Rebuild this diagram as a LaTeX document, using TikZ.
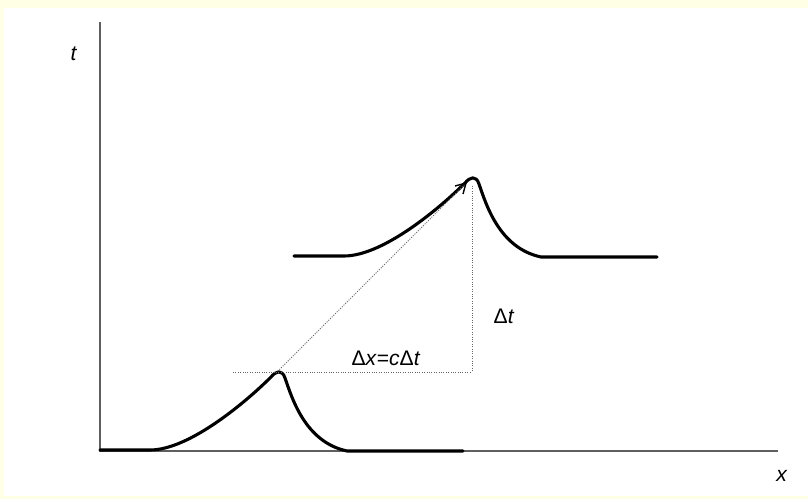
\documentclass[tikz,border=0pt]{standalone}
\usepackage{fontspec}
\setmainfont{Liberation Sans}
\usetikzlibrary{arrows.meta,positioning}
\definecolor{cream}{RGB}{255,255,230}
\definecolor{axisgray}{RGB}{95,95,95}

\begin{document}
\begin{tikzpicture}[x=0.025cm,y=-0.025cm,every node/.style={font=\fontsize{15}{18}\selectfont},
  axis/.style={line width=1.3pt,color=axisgray},
  pulse/.style={line width=2.2pt,line join=round,line cap=round},
  guide/.style={densely dotted,line width=.7pt,color=black!60}]
\fill[cream] (0,0) rectangle (808,499);
\fill[white] (4,8) rectangle (808,496);
\useasboundingbox (0,0) rectangle (808,499);
\coordinate (o) at (100,451);
\coordinate (ttop) at (100,22);
\coordinate (xend) at (778,451);
\draw[axis] (ttop)--(o)--(xend);
\node (tlab) at (74,54) {\textit{t}};
\node (xlab) at (782,476) {\textit{x}};
\foreach \d in {0,194}{
  \draw[pulse,shift={(\d,-\d)}] (100,450)--(150,450) .. controls (190,450) and (248,400) .. (271,377)
    .. controls (276,371) and (282,369) .. (285,378)
    .. controls (292,398) and (305,442) .. (347,451)--(463,451);
}
\coordinate (p1) at (276,373);
\coordinate (tip) at (467,182);
\coordinate (hl) at (233,372);
\coordinate (hr) at (472,372);
\coordinate (vt) at (472,186);
\draw[guide,-{Straight Barb[length=7pt,width=8pt,line width=1pt,black]}] (p1)--(tip);
\draw[guide] (hl)--(hr);
\draw[guide] (vt)--(hr);
\node (dxlab) at (386,358) {Δ\textit{x}=\textit{c}Δ\textit{t}};
\node (dtlab) at (504,316) {Δ\textit{t}};
\end{tikzpicture}
\end{document}
